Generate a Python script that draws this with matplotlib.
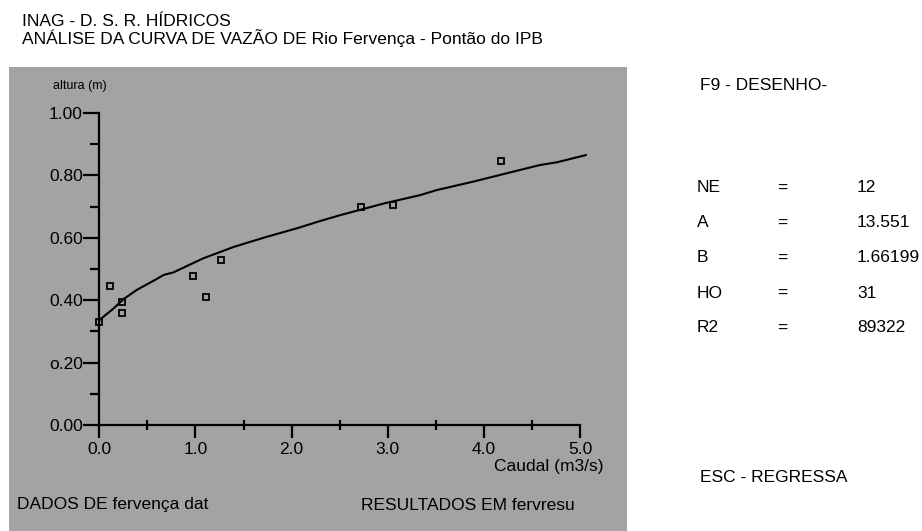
import matplotlib
matplotlib.use('Agg')
import matplotlib.pyplot as plt
from matplotlib.patches import Rectangle
from matplotlib.ticker import MultipleLocator, FixedLocator

plt.rcParams['font.family'] = ['Liberation Sans', 'DejaVu Sans']

# measured points (caudal m3/s, altura m)
caudal_obs = [0.0, 0.11, 0.24, 0.24, 0.97, 1.11, 1.27, 2.72, 3.05, 4.18]
altura_obs = [0.33, 0.445, 0.395, 0.36, 0.478, 0.41, 0.528, 0.70, 0.704, 0.845]

# fitted rating curve
caudal_fit = [0.0, 0.15, 0.25, 0.39, 0.58, 0.67, 0.77, 1.08, 1.40, 1.74, 2.05,
              2.30, 2.51, 2.96, 3.34, 3.51, 3.89, 4.24, 4.58, 4.76, 5.06]
altura_fit = [0.336, 0.374, 0.403, 0.433, 0.465, 0.481, 0.489, 0.534, 0.571, 0.603, 0.630,
              0.654, 0.673, 0.710, 0.737, 0.753, 0.780, 0.807, 0.833, 0.842, 0.865]

x_ticks = [0, 1, 2, 3, 4, 5]
x_labels = ['0.0', '1.0', '2.0', '3.0', '4.0', '5.0']
y_ticks = [0.0, 0.2, 0.4, 0.6, 0.8, 1.0]
y_labels = ['0.00', 'o.20', '0.40', '0.60', '0.80', '1.00']

params = [('NE', '12'), ('A', '13.551'), ('B', '1.66199'), ('HO', '31'), ('R2', '89322')]

W, H = 922, 531
fig = plt.figure(figsize=(W / 100, H / 100), dpi=100)


def fx(px):
    return px / W


def fy(py):
    return 1 - py / H


# grey panel
fig.patches.append(Rectangle((fx(9), 0), fx(627) - fx(9), fy(67), transform=fig.transFigure,
                             facecolor='#a4a2a4', edgecolor='none', zorder=-1))

# axes placed from pixel positions of the axis lines
x0, x5 = 99.3, 580.0
y0, y1 = 425.0, 113.0
ax = fig.add_axes([fx(x0), fy(y0), fx(x5) - fx(x0), fy(y1) - fy(y0)])
ax.set_xlim(0, 5)
ax.set_ylim(0, 1)
ax.patch.set_alpha(0)
for s in ['top', 'right']:
    ax.spines[s].set_visible(False)
for s in ['left', 'bottom']:
    ax.spines[s].set_linewidth(1.6)

ax.plot(caudal_fit, altura_fit, color='black', lw=1.5, clip_on=False)
ax.plot(caudal_obs, altura_obs, ls='none', marker='s', ms=5, mfc='none', mec='black',
        mew=1.3, clip_on=False)

ax.xaxis.set_major_locator(FixedLocator(x_ticks))
ax.set_xticklabels(x_labels)
ax.xaxis.set_minor_locator(MultipleLocator(0.5))
ax.yaxis.set_major_locator(FixedLocator(y_ticks))
ax.set_yticklabels(y_labels)
ax.yaxis.set_minor_locator(MultipleLocator(0.1))

ax.tick_params(axis='x', which='major', direction='out', length=9, width=1.6, pad=3, labelsize=12.5)
ax.tick_params(axis='x', which='minor', direction='inout', length=7, width=1.6)
ax.tick_params(axis='y', which='major', direction='out', length=11.5, width=1.6, pad=0.5, labelsize=12.5)
ax.tick_params(axis='y', which='minor', direction='out', length=6.5, width=1.6)

# texts
fs = 12.5
fig.text(fx(22), fy(21), 'INAG - D. S. R. HÍDRICOS', fontsize=fs, va='center')
fig.text(fx(22), fy(38), 'ANÁLISE DA CURVA DE VAZÃO DE Rio Fervença - Pontão do IPB', fontsize=fs, va='center')
fig.text(fx(53), fy(86), 'altura (m)', fontsize=9, va='center')
fig.text(fx(603), fy(466), 'Caudal (m3/s)', fontsize=fs, va='center', ha='right')
fig.text(fx(17), fy(505), 'DADOS DE fervença dat', fontsize=fs, va='center')
fig.text(fx(361), fy(505), 'RESULTADOS EM fervresu', fontsize=fs, va='center')

fig.text(fx(700), fy(85), 'F9 - DESENHO-', fontsize=fs, va='center')
for i, (name, val) in enumerate(params):
    yy = 188 + i * 35
    fig.text(fx(697), fy(yy), name, fontsize=fs, va='center')
    fig.text(fx(782), fy(yy), '=', fontsize=fs, va='center', ha='center')
    fig.text(fx(857), fy(yy), val, fontsize=fs, va='center')
fig.text(fx(700), fy(478), 'ESC - REGRESSA', fontsize=fs, va='center')

fig.savefig('out.png', dpi=100)
